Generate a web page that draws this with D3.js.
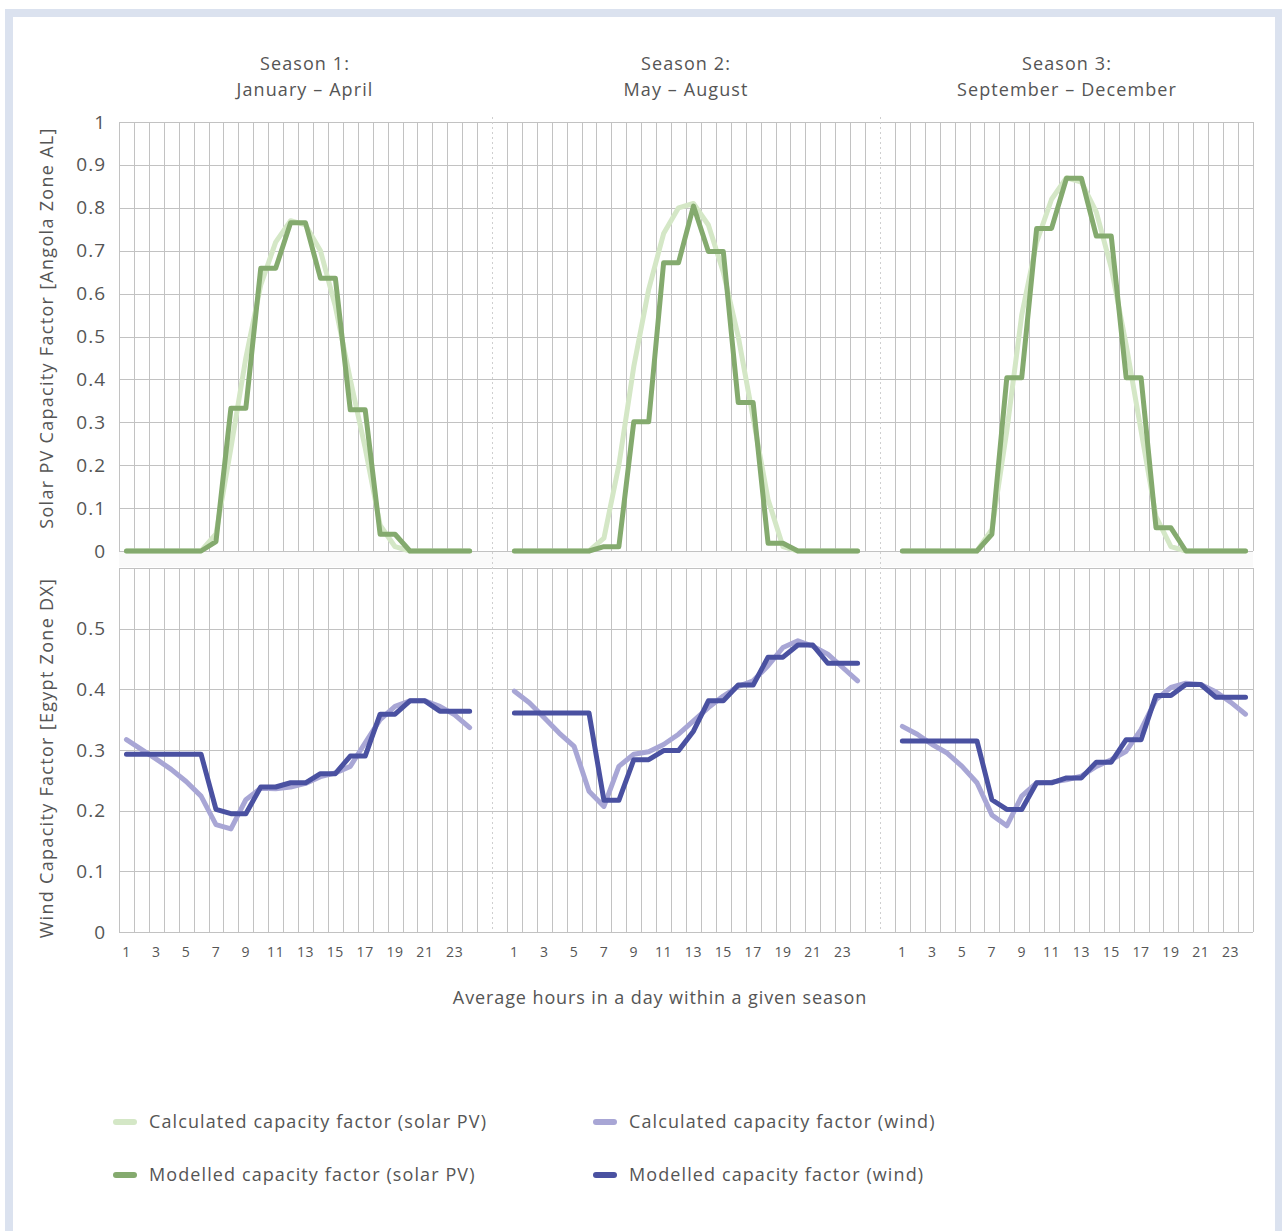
<!DOCTYPE html>
<html>
<head>
<meta charset="utf-8">
<script src="https://cdn.jsdelivr.net/npm/d3@7"></script>
<style>
  body { margin: 0; background: #fff; }
  text { font-family: "Open Sans", sans-serif; fill: #555; }
</style>
</head>
<body>
<script>
// season titles + hours
var seasons = [["Season 1:", "January \u2013 April"], ["Season 2:", "May \u2013 August"], ["Season 3:", "September \u2013 December"]];
var hours = d3.range(1, 25);

// solar pv (Angola zone AL), one array per season
var solarCalc1 = [0,0,0,0,0,0,0.04,0.24,0.45,0.62,0.72,0.77,0.76,0.70,0.57,0.40,0.24,0.06,0.01,0,0,0,0,0];
var solarCalc2 = [0,0,0,0,0,0,0.03,0.20,0.43,0.61,0.74,0.80,0.81,0.76,0.65,0.50,0.31,0.12,0.01,0,0,0,0,0];
var solarCalc3 = [0,0,0,0,0,0,0.05,0.28,0.55,0.72,0.82,0.87,0.86,0.79,0.66,0.48,0.28,0.08,0.01,0,0,0,0,0];
var solarMod1 = [0,0,0,0,0,0,0.022,0.333,0.333,0.659,0.659,0.765,0.765,0.636,0.636,0.329,0.329,0.039,0.039,0,0,0,0,0];
var solarMod2 = [0,0,0,0,0,0,0.01,0.01,0.301,0.301,0.672,0.672,0.804,0.698,0.698,0.346,0.346,0.018,0.018,0,0,0,0,0];
var solarMod3 = [0,0,0,0,0,0,0.039,0.404,0.404,0.752,0.752,0.869,0.869,0.734,0.734,0.404,0.404,0.054,0.054,0,0,0,0,0];

// wind (Egypt zone DX)
var windCalc1 = [0.317,0.301,0.285,0.268,0.248,0.224,0.177,0.170,0.218,0.237,0.236,0.239,0.245,0.256,0.262,0.273,0.312,0.350,0.372,0.381,0.381,0.372,0.358,0.337];
var windCalc2 = [0.397,0.378,0.353,0.328,0.306,0.232,0.207,0.273,0.293,0.297,0.309,0.326,0.348,0.370,0.389,0.405,0.414,0.439,0.469,0.480,0.471,0.458,0.436,0.414];
var windCalc3 = [0.339,0.326,0.309,0.295,0.273,0.246,0.193,0.175,0.224,0.246,0.247,0.251,0.257,0.273,0.284,0.298,0.334,0.383,0.403,0.410,0.408,0.396,0.379,0.359];
var windMod1 = [0.293,0.293,0.293,0.293,0.293,0.293,0.202,0.195,0.195,0.239,0.239,0.246,0.246,0.261,0.261,0.290,0.290,0.359,0.359,0.381,0.381,0.364,0.364,0.364];
var windMod2 = [0.361,0.361,0.361,0.361,0.361,0.361,0.217,0.217,0.284,0.284,0.299,0.299,0.331,0.381,0.381,0.407,0.407,0.453,0.453,0.473,0.473,0.443,0.443,0.443];
var windMod3 = [0.315,0.315,0.315,0.315,0.315,0.315,0.218,0.202,0.202,0.246,0.246,0.254,0.254,0.280,0.280,0.317,0.317,0.390,0.390,0.408,0.408,0.387,0.387,0.387];

var legendItems = [
  {label: "Calculated capacity factor (solar PV)", color: "#d4e7c6"},
  {label: "Modelled capacity factor (solar PV)", color: "#84aa6e"},
  {label: "Calculated capacity factor (wind)", color: "#a8a6d5"},
  {label: "Modelled capacity factor (wind)", color: "#4a51a1"}
];

var width = 1282, height = 1231;
var left = 119, right = 1253;
var gridColor = "#c2c2c2";

var svg = d3.select("body").append("svg")
  .attr("width", width).attr("height", height);

// outer frame
svg.append("rect")
  .attr("x", 9).attr("y", 13).attr("width", 1270).attr("height", 1240)
  .attr("fill", "#fff").attr("stroke", "#dbe2ef").attr("stroke-width", 8);

// category slots: 24 hours + 2 blanks between seasons
var slots = [];
for (var s = 0; s < 3; s++) {
  for (var k = 0; k < 26; k++) {
    if (s == 2 && k > 23) break;
    slots.push(s * 26 + k);
  }
}
var x = d3.scaleBand().domain(slots).range([left, right]).padding(0);
var slot = (s, h) => s * 26 + h - 1;
var cx = (s, h) => x(slot(s, h)) + x.bandwidth() / 2;

var ySolar = d3.scaleLinear().domain([0, 1]).range([551, 122]);
var yWind = d3.scaleLinear().domain([0, 0.6]).range([932, 568]);

// faint strip between panels
svg.append("rect").attr("x", left).attr("y", 552).attr("width", right - left).attr("height", 15).attr("fill", "#fafafa");

function drawPanel(y, ticks, labelTicks) {
  var g = svg.append("g");
  g.append("g").selectAll("line").data(ticks).join("line")
    .attr("x1", left).attr("x2", right)
    .attr("y1", d => Math.round(y(d)) + 0.5).attr("y2", d => Math.round(y(d)) + 0.5)
    .attr("stroke", gridColor);
  var bounds = d3.range(slots.length + 1).filter(i => i != 25 && i != 51);
  g.append("g").selectAll("line").data(bounds).join("line")
    .attr("x1", i => Math.round(left + i * x.step()) + 0.5)
    .attr("x2", i => Math.round(left + i * x.step()) + 0.5)
    .attr("y1", y.range()[1]).attr("y2", y.range()[0])
    .attr("stroke", gridColor);

  var ax = g.append("g")
    .attr("transform", `translate(${left},0)`)
    .call(d3.axisLeft(y).tickValues(labelTicks).tickSize(0).tickPadding(13).tickFormat(d3.format("")));
  ax.select(".domain").remove();
  ax.selectAll("text").style("font-size", "19px").style("letter-spacing", "1px")
    .style("fill", "#555").style("font-family", "Open Sans");
}

drawPanel(ySolar, d3.range(0, 11).map(d => d / 10), d3.range(0, 11).map(d => d / 10));
drawPanel(yWind, d3.range(0, 7).map(d => d / 10), d3.range(0, 6).map(d => d / 10));

// dotted season separators
svg.append("g").selectAll("line").data([25, 51]).join("line")
  .attr("x1", i => Math.round(left + i * x.step()) + 0.5)
  .attr("x2", i => Math.round(left + i * x.step()) + 0.5)
  .attr("y1", 117).attr("y2", 932)
  .attr("stroke", "#cfcfcf").attr("stroke-dasharray", "2,3");

// x axis (odd hours)
var xTicks = [];
[0, 1, 2].forEach(s => hours.filter(h => h % 2 == 1).forEach(h => xTicks.push(slot(s, h))));
var xa = svg.append("g")
  .attr("transform", "translate(0,932)")
  .call(d3.axisBottom(x).tickValues(xTicks).tickSize(0).tickPadding(15).tickFormat(d => (d % 26) + 1));
xa.select(".domain").remove();
xa.selectAll("text").style("font-size", "14px").style("letter-spacing", "0.6px")
  .style("fill", "#555").style("font-family", "Open Sans");

// season titles
var cmid = (left + right) / 2;
seasons.forEach(function(t, i) {
  var tx = cmid + (i - 1) * 381;
  svg.append("text").attr("x", tx).attr("y", 70).attr("text-anchor", "middle")
    .style("font-size", "18px").style("letter-spacing", "1.1px").text(t[0]);
  svg.append("text").attr("x", tx).attr("y", 96).attr("text-anchor", "middle")
    .style("font-size", "18px").style("letter-spacing", "1.1px").text(t[1]);
});

// axis titles
svg.append("text").attr("transform", "translate(53,328) rotate(-90)")
  .attr("text-anchor", "middle").style("font-size", "18px").style("letter-spacing", "1.3px")
  .text("Solar PV Capacity Factor [Angola Zone AL]");
svg.append("text").attr("transform", "translate(53,758) rotate(-90)")
  .attr("text-anchor", "middle").style("font-size", "18px").style("letter-spacing", "1.3px")
  .text("Wind Capacity Factor [Egypt Zone DX]");
svg.append("text").attr("x", 660).attr("y", 1004).attr("text-anchor", "middle")
  .style("font-size", "18px").style("letter-spacing", "0.9px")
  .text("Average hours in a day within a given season");

// lines
function drawSeries(arrs, y, color) {
  arrs.forEach(function(vals, s) {
    var line = d3.line().x((d, i) => cx(s, i + 1)).y(d => y(d));
    svg.append("path").datum(vals)
      .attr("d", line)
      .attr("fill", "none").attr("stroke", color).attr("stroke-width", 5)
      .attr("stroke-linejoin", "round").attr("stroke-linecap", "round");
  });
}
drawSeries([solarCalc1, solarCalc2, solarCalc3], ySolar, legendItems[0].color);
drawSeries([solarMod1, solarMod2, solarMod3], ySolar, legendItems[1].color);
drawSeries([windCalc1, windCalc2, windCalc3], yWind, legendItems[2].color);
drawSeries([windMod1, windMod2, windMod3], yWind, legendItems[3].color);

// legend
var lg = svg.append("g").selectAll("g").data(legendItems).join("g")
  .attr("transform", (d, i) => `translate(${i < 2 ? 113 : 593},${i % 2 == 0 ? 1122 : 1175})`);
lg.append("line").attr("x1", 3).attr("x2", 21).attr("y1", 0).attr("y2", 0)
  .attr("stroke", d => d.color).attr("stroke-width", 6).attr("stroke-linecap", "round");
lg.append("text").attr("x", 36).attr("y", 6).style("font-size", "18px").style("letter-spacing", "1.1px")
  .text(d => d.label);
</script>
</body>
</html>
